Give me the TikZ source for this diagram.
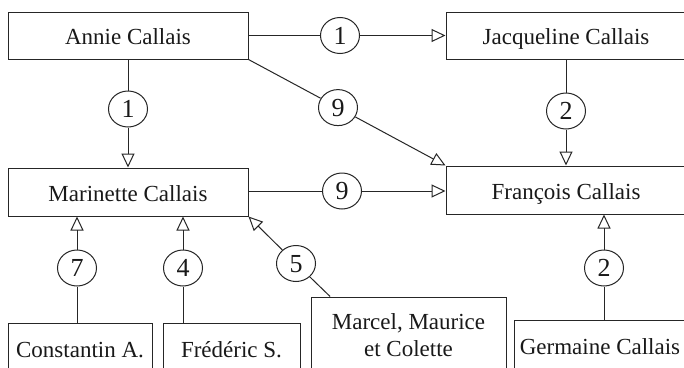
\documentclass[tikz,border=0pt]{standalone}
\usepackage{fontspec}
\setmainfont{Liberation Serif}
\usetikzlibrary{arrows.meta,shapes.geometric,calc}
\begin{document}
\begin{tikzpicture}[x=1pt,y=-1pt,
  every node/.style={font=\fontsize{23}{27}\selectfont, text=black!90},
  box/.style={draw=black!85, line width=1pt, rectangle, inner sep=0pt, text height=18pt, text depth=0pt},
  num/.style={draw=black!85, line width=1pt, ellipse, fill=white, inner sep=0pt, minimum width=39pt, minimum height=36pt, text height=17.5pt, text depth=0pt, font=\fontsize{26}{28}\selectfont},
  conn/.style={draw=black!85, line width=1pt},
  arr/.style={conn, -{Triangle[open, length=14pt, width=13pt, line width=1pt]}}]
\useasboundingbox (0,0) rectangle (684,367);
\fill[white] (0,0) rectangle (684,367);
\clip (0,0) rectangle (684,367);
% boxes
\node[box, minimum width=240pt, minimum height=47pt] (annie) at (128,35.5) {Annie Callais};
\node[box, minimum width=240pt, minimum height=47pt] (jacq) at (566,35.5) {Jacqueline Callais};
\node[box, minimum width=240pt, minimum height=48pt] (mari) at (128,192) {Marinette Callais};
\node[box, minimum width=240pt, minimum height=48pt] (fran) at (566,190) {François Callais};
\node[box, minimum width=144pt, minimum height=50pt] (const) at (80,348) {Constantin A.};
\node[box, minimum width=137pt, minimum height=50pt] (fred) at (231.5,348) {Frédéric S.};
\node[box, minimum width=172pt, minimum height=50pt] (germ) at (600,345) {Germaine Callais};
\node[box, align=center, text height={}, text depth={}, minimum width=195pt, minimum height=76pt] (marc) at (408.5,335) {Marcel, Maurice\\et Colette};
% number circles
\node[num] (c1a) at (340,35.5) {1};
\node[num] (c1b) at (128,109) {1};
\node[num] (c9a) at (338,107.6) {9};
\node[num] (c2a) at (566,111) {2};
\node[num] (c9b) at (342,191) {9};
\node[num] (c7) at (77,268) {7};
\node[num] (c4) at (183,268) {4};
\node[num] (c5) at (296,263.5) {5};
\node[num] (c2b) at (604,268) {2};
\coordinate (m5) at ($(marc.north west)!0.1!(marc.north east)$);
% connectors
\draw[conn] (annie.east) -- (c1a);
\draw[arr] (c1a) -- (jacq.west);
\draw[conn] (c1b |- annie.south) -- (c1b);
\draw[arr] (c1b) -- (c1b |- mari.north);
\draw[conn] (annie.south east) -- (c9a);
\draw[arr] (c9a) -- (fran.north west);
\draw[conn] (c2a |- jacq.south) -- (c2a);
\draw[arr] (c2a) -- (c2a |- fran.north);
\draw[conn] (c9b -| mari.east) -- (c9b);
\draw[arr] (c9b) -- (c9b -| fran.west);
\draw[conn] (c7 |- const.north) -- (c7);
\draw[arr] (c7) -- (c7 |- mari.south);
\draw[conn] (c4 |- fred.north) -- (c4);
\draw[arr] (c4) -- (c4 |- mari.south);
\draw[conn] (m5) -- (c5);
\draw[arr] (c5) -- (mari.south east);
\draw[conn] (c2b |- germ.north) -- (c2b);
\draw[arr] (c2b) -- (c2b |- fran.south);
\end{tikzpicture}
\end{document}
